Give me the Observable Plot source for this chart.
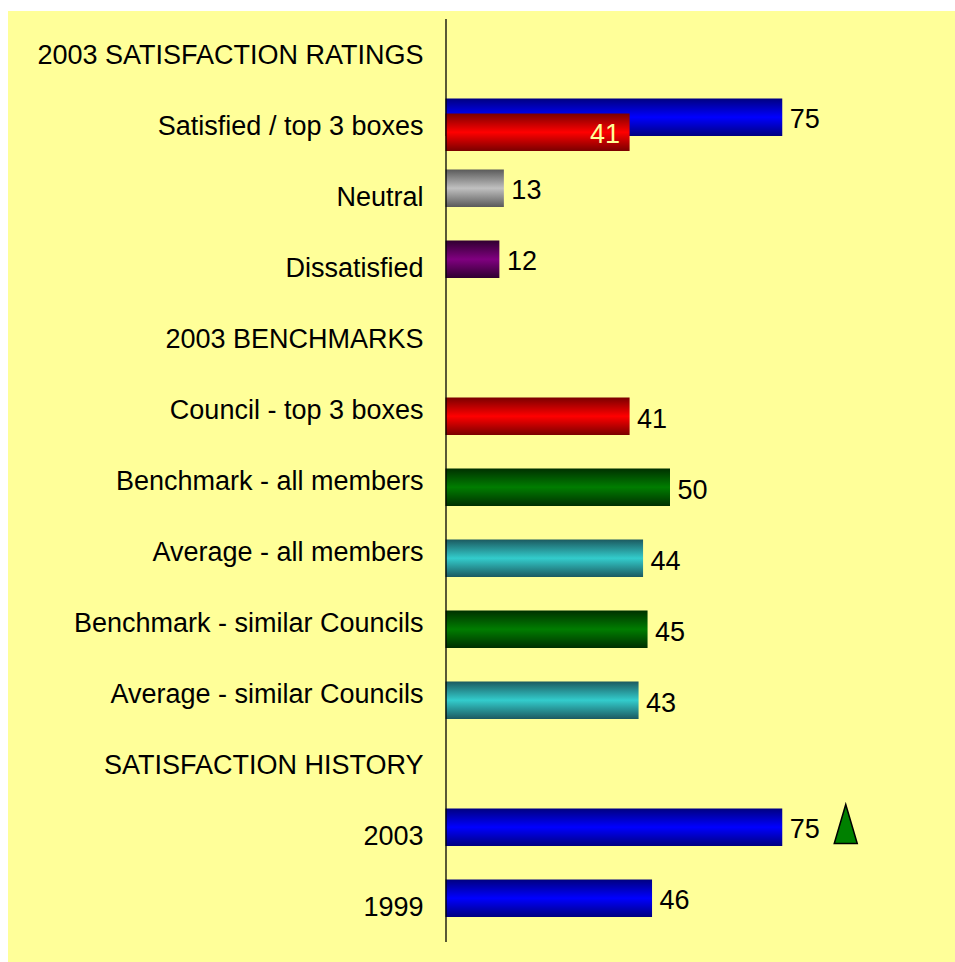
<!DOCTYPE html>
<html><head><meta charset="utf-8">
<script src="https://cdn.jsdelivr.net/npm/d3@7"></script>
<script src="https://cdn.jsdelivr.net/npm/@observablehq/plot@0.6"></script>
<style>
body{margin:0;background:#fff;}
#wrap{position:relative;width:955px;height:962px;}
#bg{position:absolute;left:8px;top:11px;right:0;bottom:0;background:#FFFF99;}
#chart{position:absolute;left:0;top:0;}
</style></head><body>
<div id="wrap"><div id="bg"></div><div id="chart"></div></div>
<script>
const categories = [
  "2003 SATISFACTION RATINGS",
  "Satisfied / top 3 boxes",
  "Neutral",
  "Dissatisfied",
  "2003 BENCHMARKS",
  "Council - top 3 boxes",
  "Benchmark - all members",
  "Average - all members",
  "Benchmark - similar Councils",
  "Average - similar Councils",
  "SATISFACTION HISTORY",
  "2003",
  "1999"
];
// upper-position series
const upperCats = ["Satisfied / top 3 boxes", "Neutral", "Dissatisfied", "2003", "1999"];
const upperValues = [75, 13, 12, 75, 46];
const upperFills = ["blue", "gray", "purple", "blue", "blue"];
// lower-position series
const lowerCats = ["Satisfied / top 3 boxes", "Council - top 3 boxes", "Benchmark - all members", "Average - all members", "Benchmark - similar Councils", "Average - similar Councils"];
const lowerValues = [41, 41, 50, 44, 45, 43];
const lowerFills = ["red", "red", "green", "teal", "green", "teal"];
const lowerInside = [true, false, false, false, false, false];
// trend marker
const trendCats = ["2003"];
const trendValues = [75];

const gradients = {
  blue: ["#000080", "#0000FF"],
  red: ["#7a0000", "#FF0000"],
  gray: ["#5a5a5a", "#C0C0C0"],
  purple: ["#300030", "#800080"],
  green: ["#003000", "#007d00"],
  teal: ["#1c5a60", "#33CCCC"]
};

const upper = upperCats.map((c, i) => ({cat: c, value: upperValues[i], fill: `url(#g-${upperFills[i]})`}));
const lower = lowerCats.map((c, i) => ({cat: c, value: lowerValues[i], fill: `url(#g-${lowerFills[i]})`, inside: lowerInside[i]}));
const trend = trendCats.map((c, i) => ({cat: c, value: trendValues[i]}));

const tallTriangle = {
  draw(context, size) {
    const r = Math.sqrt(size / Math.PI);
    context.moveTo(0, -r);
    context.lineTo(0.59 * r, r);
    context.lineTo(-0.59 * r, r);
    context.closePath();
  }
};

const FS = 27;
const chart = Plot.plot({
  width: 955, height: 962,
  marginLeft: 445.5, marginRight: 60.5, marginTop: 19, marginBottom: 20,
  style: {background: "transparent", fontFamily: "'Liberation Sans', Arial, sans-serif", color: "#000"},
  x: {domain: [0, 100], axis: null},
  y: {domain: categories, padding: 0, label: null},
  color: {type: "identity"},
  marks: [
    Plot.barX(upper, {x: "value", y: "cat", fill: "fill", insetTop: 8.5, insetBottom: 25}),
    Plot.barX(lower, {x: "value", y: "cat", fill: "fill", insetTop: 23.5, insetBottom: 10}),
    Plot.ruleX([0], {stroke: "#000", strokeWidth: 1.3}),
    Plot.axisY({tickSize: 0, tickPadding: 22.5, fontSize: FS, label: null}),
    Plot.text(upper, {x: "value", y: "cat", text: d => String(d.value), dx: 7, dy: -7, textAnchor: "start", fontSize: FS, fill: "#000"}),
    Plot.text(lower.filter(d => !d.inside), {x: "value", y: "cat", text: d => String(d.value), dx: 7, dy: 9, textAnchor: "start", fontSize: FS, fill: "#000"}),
    Plot.text(lower.filter(d => d.inside), {x: "value", y: "cat", text: d => String(d.value), dx: -10, dy: 8, textAnchor: "end", fontSize: FS, fill: "#FFFF99"}),
    Plot.dot(trend, {x: "value", y: "cat", symbol: tallTriangle, r: 19.5, dx: 63, dy: -12, fill: "#008000", stroke: "#000", strokeWidth: 1.5})
  ]
});

const defs = d3.select(chart).insert("defs", ":first-child");
for (const [k, [edge, mid]] of Object.entries(gradients)) {
  const g = defs.append("linearGradient").attr("id", "g-" + k)
    .attr("x1", 0).attr("y1", 0).attr("x2", 0).attr("y2", 1);
  g.append("stop").attr("offset", "0%").attr("stop-color", edge);
  g.append("stop").attr("offset", "50%").attr("stop-color", mid);
  g.append("stop").attr("offset", "100%").attr("stop-color", edge);
}
document.getElementById("chart").appendChild(chart);
</script>
</body></html>
